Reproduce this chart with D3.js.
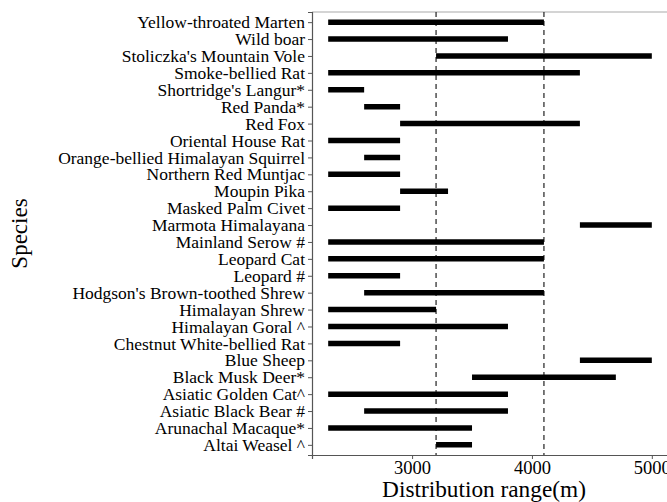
<!DOCTYPE html>
<html>
<head>
<meta charset="utf-8">
<script src="https://cdn.jsdelivr.net/npm/d3@7"></script>
<style>
  body { margin: 0; background: #fff; }
  svg { display: block; font-family: "Liberation Serif", "Times New Roman", serif; }
</style>
</head>
<body>
<svg id="chart" width="667" height="502"></svg>
<script>
// species listed top to bottom as in the figure
var species = ["Yellow-throated Marten", "Wild boar", "Stoliczka's Mountain Vole", "Smoke-bellied Rat",
  "Shortridge's Langur*", "Red Panda*", "Red Fox", "Oriental House Rat", "Orange-bellied Himalayan Squirrel",
  "Northern Red Muntjac", "Moupin Pika", "Masked Palm Civet", "Marmota Himalayana", "Mainland Serow #",
  "Leopard Cat", "Leopard #", "Hodgson's Brown-toothed Shrew", "Himalayan Shrew", "Himalayan Goral ^",
  "Chestnut White-bellied Rat", "Blue Sheep", "Black Musk Deer*", "Asiatic Golden Cat^",
  "Asiatic Black Bear #", "Arunachal Macaque*", "Altai Weasel ^"];
var lower = [2300, 2300, 3200, 2300, 2300, 2600, 2900, 2300, 2600, 2300, 2900, 2300, 4400, 2300,
  2300, 2300, 2600, 2300, 2300, 2300, 4400, 3500, 2300, 2600, 2300, 3200];
var upper = [4100, 3800, 5000, 4400, 2600, 2900, 4400, 2900, 2900, 2900, 3300, 2900, 5000, 4100,
  4100, 2900, 4100, 3200, 3800, 2900, 5000, 4700, 3800, 3800, 3500, 3500];
var refLines = [3200, 4100];
var xTicks = [3000, 4000, 5000];

var margin = {top: 12, right: -1, bottom: 47, left: 312};
var width = 667 - margin.left - margin.right,
    height = 502 - margin.top - margin.bottom;

var svg = d3.select("#chart");
var g = svg.append("g").attr("transform", "translate(" + margin.left + "," + margin.top + ")");

// ggplot style 5% expansion on the range
var span = 5000 - 2300;
var x = d3.scaleLinear().domain([2300 - span * 0.05, 5000 + span * 0.05]).range([0, width]);
var y = d3.scalePoint().domain(species).range([0, height]).padding(0.6);

// top panel border (light grey)
g.append("line").attr("x1", 0).attr("x2", width).attr("y1", 0).attr("y2", 0)
  .attr("stroke", "#aaa").attr("stroke-width", 1.2);

// dashed reference lines
g.selectAll(".ref").data(refLines).enter().append("line")
  .attr("class", "ref")
  .attr("x1", function(d) { return x(d); }).attr("x2", function(d) { return x(d); })
  .attr("y1", 0).attr("y2", height)
  .attr("stroke", "#222").attr("stroke-width", 1.2).attr("stroke-dasharray", "5,4");

// range bars
var rows = species.map(function(s, i) { return {name: s, lo: lower[i], hi: upper[i]}; });
g.selectAll(".bar").data(rows).enter().append("line")
  .attr("class", "bar")
  .attr("x1", function(d) { return x(d.lo); })
  .attr("x2", function(d) { return x(d.hi); })
  .attr("y1", function(d) { return y(d.name); })
  .attr("y2", function(d) { return y(d.name); })
  .attr("stroke", "#000").attr("stroke-width", 5.5);

// axes
var yAxis = g.append("g").call(d3.axisLeft(y).tickSize(4).tickPadding(3));
var xAxis = g.append("g").attr("transform", "translate(0," + height + ")")
  .call(d3.axisBottom(x).tickValues(xTicks).tickSize(4).tickPadding(2).tickFormat(d3.format("d")));

[yAxis, xAxis].forEach(function(a) {
  a.select(".domain").attr("stroke", "#555").attr("stroke-width", 1.2);
  a.selectAll(".tick line").attr("stroke", "#555");
  a.selectAll("text").attr("fill", "#000").style("font-family", "Liberation Serif, serif");
});
yAxis.selectAll("text").style("font-size", "17.5px");
xAxis.selectAll("text").style("font-size", "18.5px");

// axis titles
svg.append("text")
  .attr("x", 484).attr("y", 497)
  .attr("text-anchor", "middle")
  .style("font-size", "23.3px")
  .text("Distribution range(m)");

svg.append("text")
  .attr("transform", "translate(27," + (margin.top + height / 2) + ") rotate(-90)")
  .attr("text-anchor", "middle")
  .style("font-size", "23px")
  .text("Species");
</script>
</body>
</html>
